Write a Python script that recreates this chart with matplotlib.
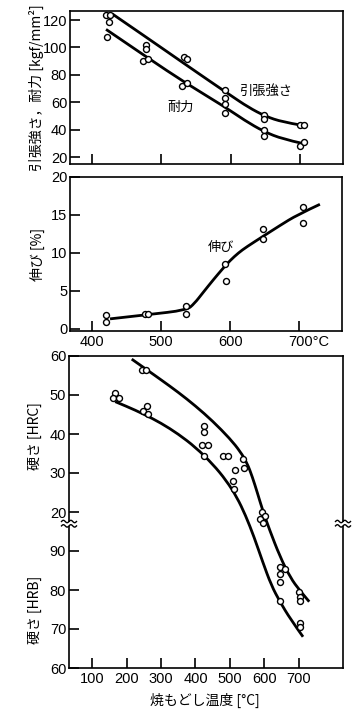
import numpy as np
import matplotlib
matplotlib.use('Agg')
import matplotlib.pyplot as plt
from matplotlib.transforms import ScaledTranslation
from matplotlib.patches import Rectangle, PathPatch
from matplotlib.path import Path

plt.rcParams['font.family'] = ['Liberation Sans', 'DejaVu Sans']
JP = ['Noto Sans CJK JP', 'DejaVu Sans']

# ---------------- data: tensile strength / yield strength [kgf/mm2] ----------
ts_temp = [420, 426, 424.5, 478, 478, 533, 537, 592, 592, 648, 648, 700, 706]
ts_val = [123.6, 123.6, 118.3, 101.8, 98.6, 92.8, 91.3, 68.9, 63.3, 50.7, 47.7, 43.4, 43.4]
ys_temp = [422, 474, 480, 530, 537, 592, 592, 648, 648, 700, 705]
ys_val = [107.4, 90.3, 91.5, 71.8, 73.8, 58.7, 52.3, 39.7, 35.3, 28.0, 31.0]
ts_curve_t = [429, 480, 535, 570, 600, 625, 650, 675, 700]
ts_curve_v = [124.5, 106.8, 87.5, 75.3, 65.0, 56.5, 49.8, 45.6, 43.5]
ys_curve_t = [420, 480, 535, 592, 620, 648, 675, 702]
ys_curve_v = [113.2, 92.5, 74.0, 56.5, 46.8, 38.6, 33.2, 30.2]

# ---------------- data: elongation [%] ----------
el_temp = [420, 420, 477, 481.6, 536, 536, 593, 594, 648, 648, 704.8, 704.8]
el_val = [1.84, 0.83, 1.97, 1.97, 3.0, 2.0, 8.5, 6.3, 13.1, 11.8, 16.05, 13.9]
el_curve_t = [426, 480, 537, 548, 561, 576, 590, 600, 612, 624, 648, 672, 697, 730]
el_curve_v = [1.3, 1.85, 2.45, 3.3, 4.8, 6.5, 8.0, 9.0, 10.0, 10.8, 12.2, 13.6, 15.0, 16.4]

# ---------------- data: hardness ----------
hrc_temp = [166.7, 161.7, 178, 244, 255.6, 258.5, 247, 261.5, 424.6, 424.6, 419.7, 435,
            424.6, 478.8, 493.3, 538.5, 514.5, 540.6, 508.7, 511.6, 592, 603, 588, 596.5]
hrc_val = [50.4, 49.2, 49.3, 56.4, 56.4, 47.2, 46.0, 45.2, 42.1, 40.6, 37.2, 37.2,
           34.4, 34.4, 34.4, 33.6, 30.8, 31.3, 28.0, 25.9, 20.1, 19.1, 18.2, 17.1]
hrb_temp = [645, 659.4, 645, 645, 645, 700, 703, 703, 703, 703]
hrb_val = [86.0, 85.5, 84.1, 82.1, 77.2, 79.4, 78.3, 77.2, 71.5, 70.4]
# upper curve: HRC section then HRB section
up_hrc_t = [215, 260, 300, 350, 400, 450, 500, 530, 550, 565, 580, 595]
up_hrc_v = [59.2, 56.4, 53.9, 50.7, 47.2, 43.3, 38.8, 35.5, 32.5, 29.0, 24.8, 20.4]
up_hrb_t = [615, 645, 675, 703, 730]
up_hrb_v = [95.4, 88.6, 83.2, 79.8, 77.0]
# lower curve
lo_hrc_t = [167, 200, 250, 300, 350, 400, 450, 490, 520, 545]
lo_hrc_v = [48.3, 47.1, 45.1, 42.8, 40.0, 36.6, 32.3, 28.0, 23.8, 19.2]
lo_hrb_t = [570, 595, 620, 645, 675, 712]
lo_hrb_v = [93.6, 87.2, 81.2, 77.0, 72.6, 68.0]

hard_ticks = [60, 50, 40, 30, 20, 90, 80, 70, 60]
HRB_SHIFT = 80  # HRB value -> common axis coordinate (axis break)


def hrb_axis(v):
    return np.asarray(v, float) - HRB_SHIFT


W, H = 360, 715
fig = plt.figure(figsize=(W / 100, H / 100), dpi=100)


def axrect(l, t, r, b):
    return [l / W, 1 - b / H, (r - l) / W, (b - t) / H]


ax1 = fig.add_axes(axrect(70, 11, 343, 164))
ax2 = fig.add_axes(axrect(70, 177, 342, 331))
ax3 = fig.add_axes(axrect(69, 356, 343, 668))

mk = dict(ls='none', marker='o', ms=4.3, mfc='white', mec='black', mew=1.0, zorder=4)


def smooth_curve(ax, xs, ys):
    """Draw a smooth hand-drawn style curve through read points (quadratic Bezier path)."""
    pts = np.column_stack([np.asarray(xs, float), np.asarray(ys, float)])
    verts = [pts[0]]
    codes = [Path.MOVETO]
    for i in range(1, len(pts) - 1):
        mid = (pts[i] + pts[i + 1]) / 2 if i < len(pts) - 2 else pts[i + 1]
        verts += [pts[i], mid]
        codes += [Path.CURVE3, Path.CURVE3]
    if len(pts) == 2:
        verts.append(pts[1])
        codes.append(Path.LINETO)
    ax.add_patch(PathPatch(Path(verts, codes), facecolor='none', edgecolor='black',
                           lw=2.0, capstyle='butt', zorder=3))


for ax in (ax1, ax2, ax3):
    for s in ax.spines.values():
        s.set_linewidth(1.2)
    ax.tick_params(direction='in', length=7, width=1.2, top=False, right=False,
                   labelsize=10.5, pad=3)
    ax.tick_params(axis='y', pad=2)

# ---- top panel
smooth_curve(ax1, ts_curve_t, ts_curve_v)
smooth_curve(ax1, ys_curve_t, ys_curve_v)
ax1.plot(ts_temp, ts_val, **mk)
ax1.plot(ys_temp, ys_val, **mk)
ax1.set_xlim(368, 762)
ax1.set_ylim(15, 126.6)
ax1.set_xticks([400, 500, 600, 700])
ax1.set_xticklabels([])
ax1.set_yticks([20, 40, 60, 80, 100, 120])
ax1.text(650, 68, '引張強さ', family=JP, fontsize=9.5, ha='center', va='center')
ax1.text(528, 56.5, '耐力', family=JP, fontsize=9.5, ha='center', va='center')

# ---- middle panel
smooth_curve(ax2, el_curve_t, el_curve_v)
ax2.plot(el_temp, el_val, **mk)
ax2.set_xlim(368, 762)
ax2.set_ylim(-0.3, 20)
ax2.set_xticks([400, 500, 600, 700])
ax2.set_xticklabels(['400', '500', '600', '700°C'])
ax2.set_yticks([0, 5, 10, 15, 20])
lab = ax2.get_xticklabels()[-1]
lab.set_transform(lab.get_transform() + ScaledTranslation(0.095, 0, fig.dpi_scale_trans))
ax2.text(587, 10.7, '伸び', family=JP, fontsize=9.5, ha='center', va='center')

# ---- bottom panel (hardness with axis break)
smooth_curve(ax3, up_hrc_t + up_hrb_t, np.concatenate([up_hrc_v, hrb_axis(up_hrb_v)]))
smooth_curve(ax3, lo_hrc_t + lo_hrb_t, np.concatenate([lo_hrc_v, hrb_axis(lo_hrb_v)]))
ax3.plot(hrc_temp, hrc_val, **mk)
ax3.plot(hrb_temp, hrb_axis(hrb_val), **mk)
ax3.set_xlim(33, 828)
ax3.set_ylim(-20, 60)
ax3.set_xticks([100, 200, 300, 400, 500, 600, 700])
ytk = list(hard_ticks[:5]) + list(hrb_axis(hard_ticks[5:]))
ax3.set_yticks(ytk)
ax3.set_yticklabels([str(v) for v in hard_ticks])

# break marks on both vertical spines
ybreak = (17 + 20) / 80
xs = np.linspace(-0.075, 0.075, 40)
wave = 0.012 * np.sin(2 * np.pi * xs / 0.075)
for xa in (0, 1):
    tr = fig.dpi_scale_trans + ScaledTranslation(xa, ybreak, ax3.transAxes)
    ax3.add_patch(Rectangle((-0.03, -0.022), 0.06, 0.044, transform=tr,
                            facecolor='white', edgecolor='none', clip_on=False, zorder=6))
    for dy in (-0.022, 0.022):
        ax3.plot(xs, wave + dy, color='black', lw=1.0, transform=tr, clip_on=False, zorder=7)

# axis labels
fig.text(36.5 / W, 1 - 88 / H, '引張強さ，耐力 [kgf/mm²]', family=JP, fontsize=10,
         rotation=90, ha='center', va='center')
fig.text(37 / W, 1 - 254 / H, '伸び [%]', family=JP, fontsize=10,
         rotation=90, ha='center', va='center')
fig.text(35 / W, 1 - 436 / H, '硬さ [HRC]', family=JP, fontsize=10,
         rotation=90, ha='center', va='center')
fig.text(35 / W, 1 - 610 / H, '硬さ [HRB]', family=JP, fontsize=10,
         rotation=90, ha='center', va='center')
fig.text(205 / W, 1 - 700 / H, '焼もどし温度 [°C]', family=JP, fontsize=10,
         ha='center', va='center')

fig.savefig('out.png', dpi=100)
